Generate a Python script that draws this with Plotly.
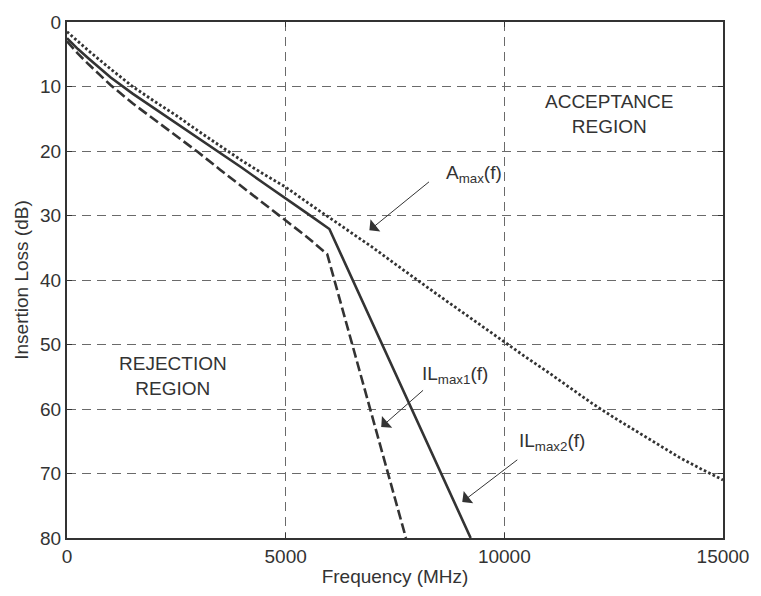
import plotly.graph_objects as go

# Frequency (MHz) and insertion loss (dB)
amax_freq = [0, 500, 1000, 1500, 2000, 2500, 3000, 3500, 4000, 4500, 5000, 5500, 6000, 6500, 7000,
             7500, 8000, 8500, 9000, 9500, 10000, 10500, 11000, 11500, 12000, 12500, 13000, 13500,
             14000, 14500, 15000]
amax_db = [1.5, 4.5, 7.3, 10.0, 12.3, 14.5, 16.9, 19.2, 21.5, 23.6, 25.6, 28.0, 30.3, 32.6, 35.0,
           37.5, 40.0, 42.4, 44.8, 47.2, 49.7, 52.0, 54.3, 56.7, 59.1, 61.3, 63.4, 65.5,
           67.5, 69.3, 71.0]

il2_freq = [0, 250, 500, 1000, 1500, 2000, 2500, 3000, 3500, 4000, 4500, 5000, 5500, 6000, 9230]
il2_db = [2.5, 4.2, 5.7, 8.6, 11.1, 13.4, 15.6, 17.9, 20.2, 22.6, 25.0, 27.3, 29.7, 32.1, 80.0]

il1_freq = [0, 250, 500, 1000, 1500, 2000, 2500, 3000, 3500, 4000, 4500, 5000, 5500, 5950, 7750]
il1_db = [3.0, 4.9, 6.6, 9.8, 12.6, 15.1, 17.6, 20.2, 22.9, 25.5, 28.1, 30.7, 33.4, 36.0, 80.0]

x_ticks = [0, 5000, 10000, 15000]
x_tick_labels = ["0", "5000", "10000", "15000"]
y_ticks = [0, 10, 20, 30, 40, 50, 60, 70, 80]

INK = "#333333"
FONT = "Liberation Sans, Arial, sans-serif"

fig = go.Figure()
fig.add_trace(go.Scatter(x=amax_freq, y=amax_db, mode="lines",
                         line=dict(color=INK, width=2.8, dash="2.6px,2.3px"), name="Amax"))
fig.add_trace(go.Scatter(x=il2_freq, y=il2_db, mode="lines",
                         line=dict(color=INK, width=2.6), name="ILmax2"))
fig.add_trace(go.Scatter(x=il1_freq, y=il1_db, mode="lines",
                         line=dict(color=INK, width=2.6, dash="10px,4px"), name="ILmax1"))

axis_common = dict(
    showgrid=True, gridcolor="#6a6a6a", gridwidth=1, griddash="9px,6px",
    showline=True, linecolor=INK, linewidth=2, mirror="ticks",
    ticks="inside", ticklen=5, tickcolor=INK,
    tickfont=dict(family=FONT, size=19, color=INK),
    zeroline=False,
)

fig.update_xaxes(range=[0, 15000], tickvals=x_ticks, ticktext=x_tick_labels,
                 title=dict(text="Frequency (MHz)", font=dict(family=FONT, size=19, color=INK), standoff=4),
                 **axis_common)
fig.update_yaxes(range=[80, 0], tickvals=y_ticks,
                 title=dict(text="Insertion Loss (dB)", font=dict(family=FONT, size=19, color=INK), standoff=6),
                 **axis_common)

def label(x, y, text):
    fig.add_annotation(x=x, y=y, xref="x", yref="y", text=text, showarrow=False,
                       font=dict(family=FONT, size=19, color=INK), align="center")

def arrow(x_tip, y_tip, x_tail, y_tail):
    fig.add_annotation(x=x_tip, y=y_tip, ax=x_tail, ay=y_tail, xref="x", yref="y",
                       axref="x", ayref="y", text="", showarrow=True,
                       arrowhead=1, arrowsize=2.6, arrowwidth=1, arrowcolor=INK)

label(12400, 14.2, "ACCEPTANCE<br>REGION")
label(2430, 54.9, "REJECTION<br>REGION")
label(9300, 23.6, "A<sub>max</sub>(f)")
label(8870, 54.7, "IL<sub>max1</sub>(f)")
label(11100, 65.1, "IL<sub>max2</sub>(f)")

arrow(6914, 32.3, 8311, 24.6)
arrow(7185, 62.8, 8176, 56.9)
arrow(9038, 74.4, 10331, 67.7)

fig.update_layout(
    width=761, height=596,
    margin=dict(l=67, r=28, t=15, b=56),
    paper_bgcolor="white", plot_bgcolor="white",
    showlegend=False,
    font=dict(family=FONT, size=19, color=INK),
)

fig.write_html("out.html")
